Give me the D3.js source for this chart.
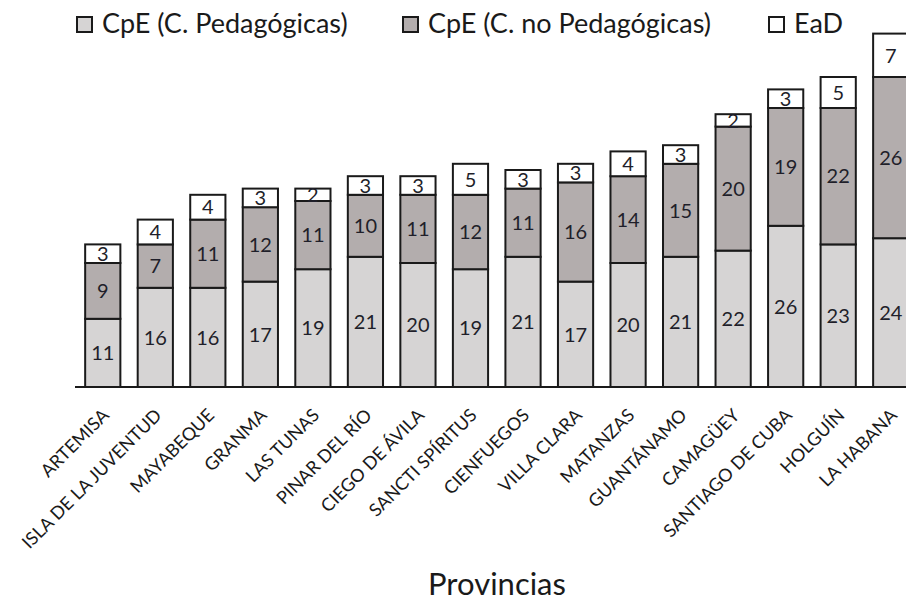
<!DOCTYPE html>
<html>
<head>
<meta charset="utf-8">
<script src="https://cdn.jsdelivr.net/npm/d3@7"></script>
<style>
  body { margin: 0; background: #fff; }
  svg { display: block; font-family: Lato, "Open Sans", sans-serif; }
</style>
</head>
<body>
<div id="chart"></div>
<script>
// provinces, left to right
const provincias = ["ARTEMISA", "ISLA DE LA JUVENTUD", "MAYABEQUE", "GRANMA", "LAS TUNAS",
  "PINAR DEL RÍO", "CIEGO DE ÁVILA", "SANCTI SPÍRITUS", "CIENFUEGOS", "VILLA CLARA",
  "MATANZAS", "GUANTÁNAMO", "CAMAGÜEY", "SANTIAGO DE CUBA", "HOLGUÍN", "LA HABANA"];

// series values
const pedagogicas   = [11, 16, 16, 17, 19, 21, 20, 19, 21, 17, 20, 21, 22, 26, 23, 24];
const noPedagogicas = [9, 7, 11, 12, 11, 10, 11, 12, 11, 16, 14, 15, 20, 19, 22, 26];
const ead           = [3, 4, 4, 3, 2, 3, 3, 5, 3, 3, 4, 3, 2, 3, 5, 7];

const seriesNames = ["CpE (C. Pedagógicas)", "CpE (C. no Pedagógicas)", "EaD"];
const seriesKeys = ["ped", "noped", "ead"];
const colors = ["#d6d4d4", "#b3adad", "#ffffff"];

const width = 906, height = 603;
const baseY = 387;

const table = provincias.map((p, i) => ({
  prov: p, ped: pedagogicas[i], noped: noPedagogicas[i], ead: ead[i]
}));

const svg = d3.select("#chart").append("svg")
  .attr("width", width)
  .attr("height", height);

const x = d3.scaleBand()
  .domain(provincias)
  .range([76.5, 917])
  .paddingInner(0.33)
  .paddingOuter(0.165);

const y = d3.scaleLinear()
  .domain([0, 60])
  .range([baseY, 15]);

const stacked = d3.stack().keys(seriesKeys)(table);

// bars
const layer = svg.selectAll(".layer")
  .data(stacked)
  .enter().append("g")
    .attr("class", "layer")
    .attr("fill", (d, i) => colors[i]);

layer.selectAll("rect")
  .data(d => d)
  .enter().append("rect")
    .attr("x", d => x(d.data.prov))
    .attr("y", d => y(d[1]))
    .attr("width", x.bandwidth())
    .attr("height", d => y(d[0]) - y(d[1]))
    .attr("stroke", "#1a1a1a")
    .attr("stroke-width", 2);

// values inside segments
layer.selectAll("text")
  .data(d => d.map(v => ({ v: v, val: v[1] - v[0] })))
  .enter().append("text")
    .attr("x", d => x(d.v.data.prov) + x.bandwidth() / 2)
    .attr("y", d => (y(d.v[0]) + y(d.v[1])) / 2)
    .attr("dy", "0.36em")
    .attr("text-anchor", "middle")
    .attr("font-size", "20px")
    .attr("fill", "#1f1f2a")
    .text(d => d.val);

// axis line
svg.append("line")
  .attr("x1", 75).attr("x2", width)
  .attr("y1", baseY).attr("y2", baseY)
  .attr("stroke", "#1a1a1a")
  .attr("stroke-width", 2);

// rotated category labels
svg.append("g")
  .selectAll("text")
  .data(provincias)
  .enter().append("text")
    .attr("transform", d => `translate(${x(d) + x.bandwidth() / 2 + 3}, 412) rotate(-45)`)
    .attr("dy", "0.35em")
    .attr("text-anchor", "end")
    .attr("font-size", "18px")
    .attr("fill", "#1a1a1a")
    .text(d => d);

// axis title
svg.append("text")
  .attr("x", 497)
  .attr("y", 595)
  .attr("text-anchor", "middle")
  .attr("font-size", "31px")
  .attr("fill", "#1a1a1a")
  .text("Provincias");

// legend
const legendX = [77, 403, 769];
const legend = svg.append("g")
  .selectAll("g")
  .data(seriesNames)
  .enter().append("g")
    .attr("transform", (d, i) => `translate(${legendX[i]}, 17)`);

legend.append("rect")
  .attr("width", 15).attr("height", 15)
  .attr("fill", (d, i) => colors[i])
  .attr("stroke", "#1a1a1a")
  .attr("stroke-width", 2);

legend.append("text")
  .attr("x", 25)
  .attr("y", 16)
  .attr("font-size", "27px")
  .attr("fill", "#1a1a1a")
  .text(d => d);
</script>
</body>
</html>
